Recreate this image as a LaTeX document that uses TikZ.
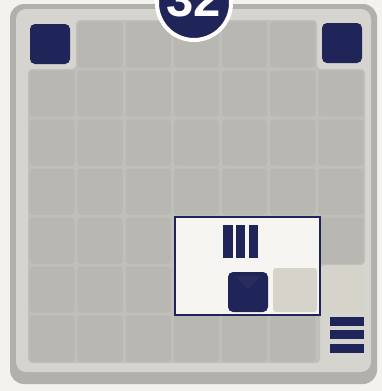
\documentclass[tikz,border=0pt]{standalone}
\usepackage{fontspec}
\setsansfont{Liberation Sans}
\usetikzlibrary{calc}
\definecolor{paper}{RGB}{243,242,238}
\definecolor{cardedge}{RGB}{178,176,171}
\definecolor{band}{RGB}{213,212,207}
\definecolor{seam}{RGB}{193,191,186}
\definecolor{cellgray}{RGB}{185,183,178}
\definecolor{navy}{RGB}{31,37,88}
\definecolor{window}{RGB}{246,245,241}
\definecolor{palecell}{RGB}{213,211,202}
\tikzset{
  cell/.style={fill=cellgray, rounded corners=3pt},
  block/.style={fill=navy, rounded corners=5pt},
  bar/.style={fill=navy},
  badge/.style={circle, fill=navy, draw=white, line width=4pt, minimum size=74pt, inner sep=0pt},
  number/.style={text=white, font=\fontsize{49}{49}\selectfont\sffamily\bfseries, inner sep=0pt}
}

\begin{document}
\begin{tikzpicture}[x=1pt, y=-1pt]
\fill[paper] (0,0) rectangle (382,391);
\useasboundingbox (0,0) rectangle (382,391);

% card
\fill[cardedge, rounded corners=14pt] (10,4) rectangle (377,384);
\fill[band, rounded corners=10pt] (16,9) rectangle (371,372);

% board with notches
\fill[seam, rounded corners=4pt] (28,69) -- (76,69) -- (76,20) -- (317,20) -- (317,69)
  -- (365,69) -- (365,265) -- (320,265) -- (320,363) -- (28,363) -- cycle;
\foreach \r in {0,...,6}{
  \foreach \c in {0,...,6}{
    \pgfmathtruncatemacro{\notch}{(\r==0 && (\c==0 || \c==6)) || (\r>=5 && \c==6)}
    \ifnum\notch=0
      \fill[cell] ({28+48.14*\c+1.5},{20+49*\r+1.5}) rectangle ++(45.1,46);
    \fi
  }
}
\fill[palecell, rounded corners=3pt] (323,267) rectangle (364,312);

% corner blocks
\fill[block] (30,24) rectangle (70,64);
\fill[block] (322,23) rectangle (362,63);

% window
\draw[navy, line width=2.8pt, fill=window] (175,217) rectangle (320,315);
\fill[palecell, rounded corners=3pt] (273,268) rectangle (317,312);
\fill[bar] (223,225) rectangle (232.5,258);
\fill[bar] (236,225) rectangle (245,258);
\fill[bar] (248.5,225) rectangle (258,258);
\fill[block] (228,272) rectangle (268,312);
\fill[navy!80!white, opacity=0.2] (236,276) -- (260,276) -- (248,290) -- cycle;

% stack mark
\fill[bar] (330,317) rectangle (364,326);
\fill[bar] (330,330) rectangle (364,339);
\fill[bar] (330,344) rectangle (364,353);

% number
\node[badge] (disc) at (194,3) {};
\node[number, anchor=base] (num) at ($(disc.center)+(0,13)$) {32};
\end{tikzpicture}
\end{document}
